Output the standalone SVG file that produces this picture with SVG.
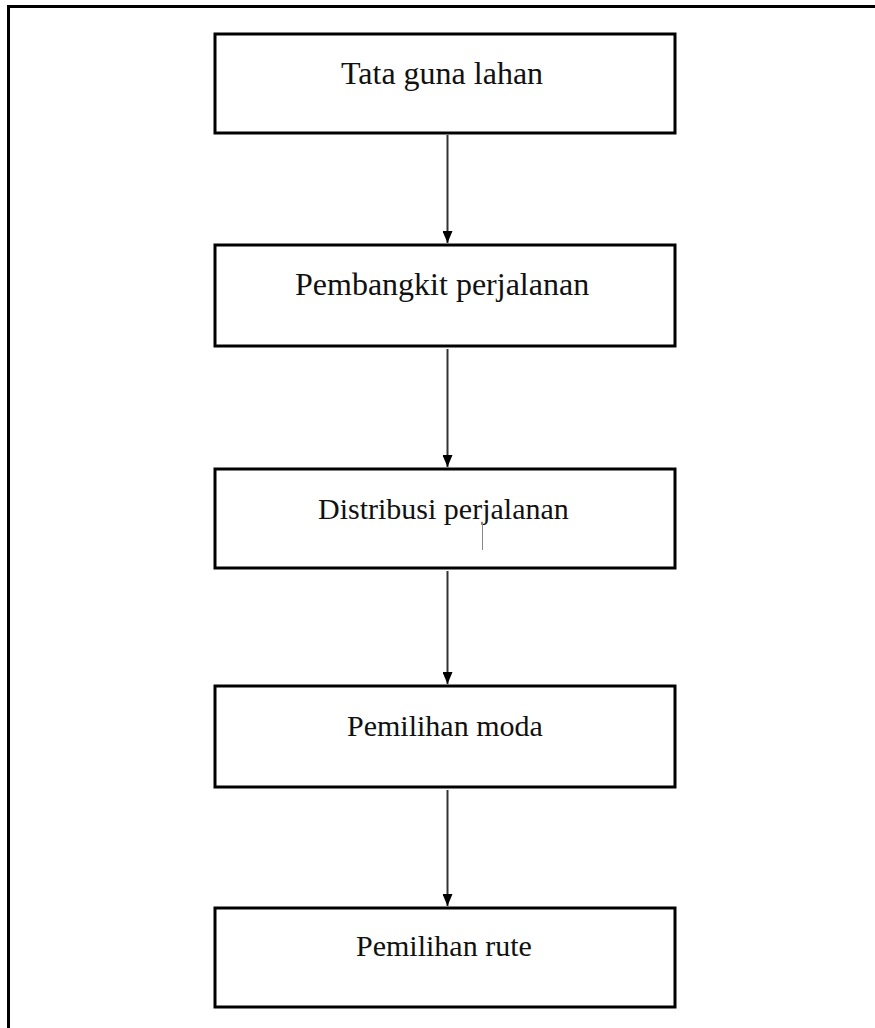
<svg xmlns="http://www.w3.org/2000/svg" width="875" height="1028" viewBox="0 0 875 1028">
<style>
.box{fill:#fff;stroke:#000;stroke-width:3}
.lbl{font-family:"Liberation Serif","Times New Roman",serif;fill:#111}
.arr{stroke:#333;stroke-width:2;fill:none}
.frame{stroke:#000;stroke-width:3;fill:none}
</style>
<defs>
<marker id="ah" viewBox="0 0 12 10" refX="12" refY="5" markerWidth="12" markerHeight="10" markerUnits="userSpaceOnUse" orient="auto">
<path d="M0,0 L12,5 L0,10 Z" fill="#000"/>
</marker>
</defs>
<rect width="875" height="1028" fill="#fff"/>
<path class="frame" d="M8.5,1028 V6.5 H875"/>
<g id="connectors">
<line class="arr" x1="447.5" y1="135" x2="447.5" y2="243" marker-end="url(#ah)"/>
<line class="arr" x1="447.5" y1="349" x2="447.5" y2="467" marker-end="url(#ah)"/>
<line class="arr" x1="447.5" y1="571" x2="447.5" y2="684" marker-end="url(#ah)"/>
<line class="arr" x1="447.5" y1="790" x2="447.5" y2="906" marker-end="url(#ah)"/>
</g>
<g id="n1">
<rect class="box" x="215" y="34" width="460" height="99"/>
<text class="lbl" x="341" y="84" font-size="32">Tata guna lahan</text>
</g>
<g id="n2">
<rect class="box" x="215" y="245" width="460" height="101"/>
<text class="lbl" x="295" y="295" font-size="32">Pembangkit perjalanan</text>
</g>
<g id="n3">
<rect class="box" x="215" y="469" width="460" height="99"/>
<text class="lbl" x="318" y="519" font-size="30">Distribusi perjalanan</text>
<line x1="482.5" y1="522" x2="482.5" y2="550" stroke="#888" stroke-width="1"/>
</g>
<g id="n4">
<rect class="box" x="215" y="686" width="460" height="101"/>
<text class="lbl" x="347" y="736" font-size="30">Pemilihan moda</text>
</g>
<g id="n5">
<rect class="box" x="215" y="908" width="460" height="99"/>
<text class="lbl" x="356" y="956" font-size="30">Pemilihan rute</text>
</g>
</svg>
